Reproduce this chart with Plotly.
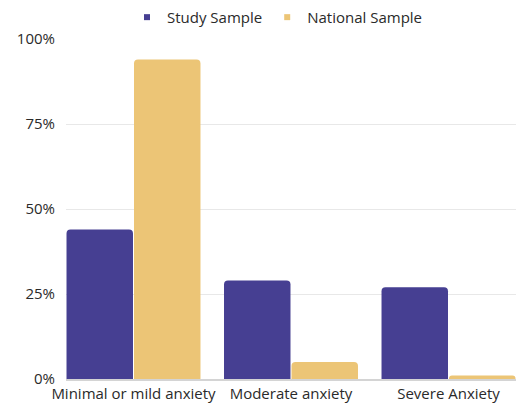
import plotly.graph_objects as go

categories = ["Minimal or mild anxiety", "Moderate anxiety", "Severe Anxiety"]
study_sample = [44, 29, 27]
national_sample = [94, 5, 1]
y_ticks = [0, 25, 50, 75, 100]
y_tick_labels = ["0%", "25%", "50%", "75%", "100%"]

PURPLE = "#463F92"
GOLD = "#ECC576"
FONT = "Open Sans"

fig = go.Figure()
for name, values, color in [("Study Sample", study_sample, PURPLE),
                            ("National Sample", national_sample, GOLD)]:
    fig.add_trace(go.Bar(name=name, x=categories, y=values, showlegend=False,
                         legendgroup=name,
                         marker=dict(color=color, line=dict(width=0))))
    # small square swatch for the legend
    fig.add_trace(go.Scatter(name=name, x=[None], y=[None], mode="markers",
                             legendgroup=name,
                             marker=dict(symbol="square", size=6, color=color)))

bargap = 0.143
fig.update_layout(
    width=516, height=403,
    margin=dict(l=66, r=0, t=39, b=24),
    paper_bgcolor="white", plot_bgcolor="white",
    barmode="group", bargap=bargap, bargroupgap=0.015,
    barcornerradius=4,
    font=dict(family=FONT, size=15, color="#2a2a2a"),
    showlegend=True,
    legend=dict(orientation="h", x=0.47, xanchor="center", y=1.015, yanchor="bottom",
                font=dict(size=15), itemwidth=30, traceorder="normal"),
    xaxis=dict(type="category", range=[-0.5 + bargap / 2, 2.5 - bargap / 2],
               showline=True, linecolor="#d4d4d4", linewidth=1.5,
               ticks="", showgrid=False, tickfont=dict(size=15)),
    yaxis=dict(range=[0, 100], tickvals=y_ticks, ticktext=y_tick_labels,
               showgrid=True, gridcolor="#e8e8e8", gridwidth=1.2,
               zeroline=False, showline=False, ticks="", ticklabelstandoff=10,
               tickfont=dict(size=15)),
)

fig.write_html("out.html")
